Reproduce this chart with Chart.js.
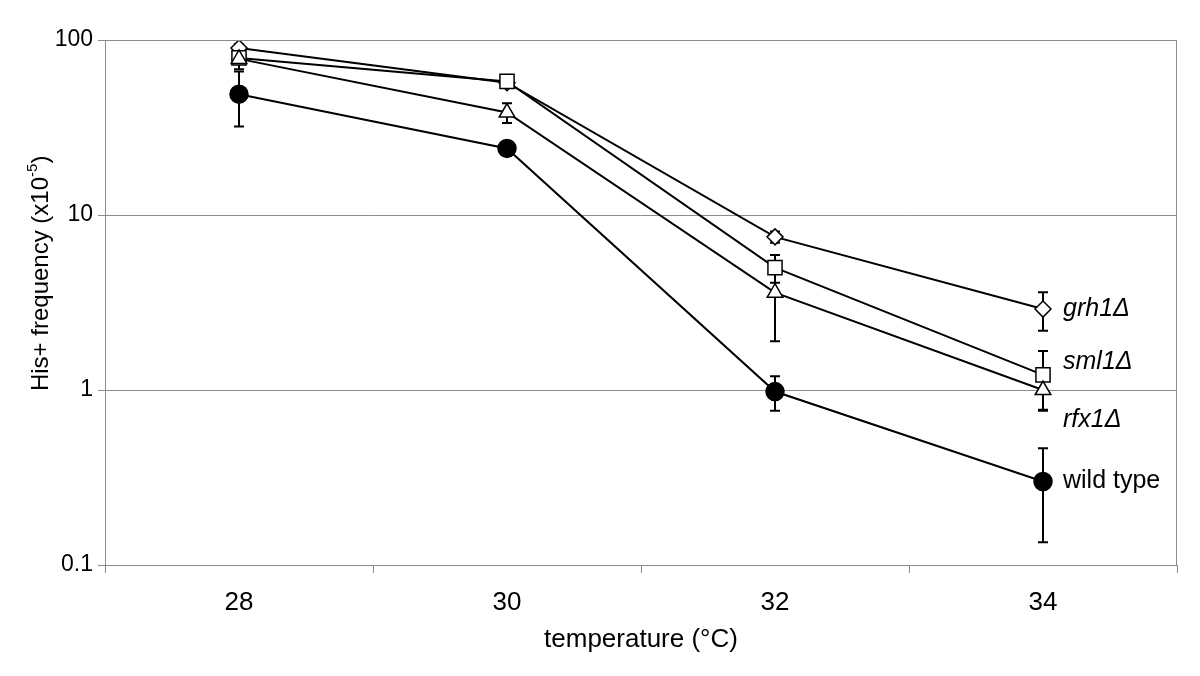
<!DOCTYPE html>
<html>
<head>
<meta charset="utf-8">
<style>
  html, body { margin: 0; padding: 0; background: #fff; }
  #wrap { width: 1200px; height: 676px; }
</style>
<script src="https://cdn.jsdelivr.net/npm/chart.js@4.4.1/dist/chart.umd.min.js"></script>
</head>
<body>
<div id="wrap"><canvas id="c" width="1200" height="676"></canvas></div>
<script>
const categories = ['28', '30', '32', '34'];
const yTickValues = [0.1, 1, 10, 100];

const wildType    = [49, 24, 0.98, 0.30];
const wildTypeErr = [17, 2, 0.22, 0.165];
const rfx1        = [78, 38.5, 3.6, 1.0];
const rfx1Err     = [10, 5, 1.7, 0.24];
const sml1        = [79, 58, 5.0, 1.22];
const sml1Err     = [6, 3, 0.9, 0.45];
const grh1        = [90, 57, 7.5, 2.9];
const grh1Err     = [5, 2, 0.55, 0.72];

const seriesLabels = ['grh1Δ', 'sml1Δ', 'rfx1Δ', 'wild type'];

const FONT = '"Liberation Sans", Arial, Helvetica, sans-serif';
const GRID = '#8c8c8c';

const errorBarPlugin = {
  id: 'errorBars',
  beforeDatasetsDraw(chart) {
    const ctx = chart.ctx;
    const x = chart.scales.x, y = chart.scales.y;
    ctx.save();
    ctx.strokeStyle = '#000';
    ctx.lineWidth = 2;
    chart.data.datasets.forEach(ds => {
      ds.err.forEach((e, i) => {
        const px = x.getPixelForValue(i);
        const top = y.getPixelForValue(ds.data[i] + e);
        const bot = y.getPixelForValue(Math.max(ds.data[i] - e, 0.0001));
        ctx.beginPath();
        ctx.moveTo(px, top); ctx.lineTo(px, bot);
        ctx.moveTo(px - 5, top); ctx.lineTo(px + 5, top);
        ctx.moveTo(px - 5, bot); ctx.lineTo(px + 5, bot);
        ctx.stroke();
      });
    });
    ctx.restore();
  }
};

const framePlugin = {
  id: 'frame',
  afterDraw(chart) {
    const ctx = chart.ctx, a = chart.chartArea;
    ctx.save();
    ctx.strokeStyle = GRID;
    ctx.lineWidth = 1;
    ctx.strokeRect(Math.round(a.left) + 0.5, Math.round(a.top) + 0.5,
                   Math.round(a.right - a.left) - 1, Math.round(a.bottom - a.top));
    ctx.restore();
  }
};

const labelPlugin = {
  id: 'seriesLabels',
  afterDraw(chart) {
    const ctx = chart.ctx;
    const x = chart.scales.x, y = chart.scales.y;
    const last = categories.length - 1;
    const opts = chart.options.plugins.seriesLabels;
    ctx.save();
    ctx.fillStyle = '#000';
    ctx.textBaseline = 'middle';
    ctx.textAlign = 'left';
    opts.items.forEach(it => {
      const ds = chart.data.datasets[it.ds];
      const px = x.getPixelForValue(last) + opts.dx;
      const py = y.getPixelForValue(ds.data[last]) + it.dy;
      ctx.font = (it.italic ? 'italic ' : '') + '25px ' + FONT;
      ctx.fillText(ds.label, px, py);
    });
    // y axis title
    ctx.translate(41, 272);
    ctx.rotate(-Math.PI / 2);
    ctx.textAlign = 'center';
    ctx.font = '24px ' + FONT;
    ctx.fillText('His+ frequency (x10', -12, 0);
    const w = ctx.measureText('His+ frequency (x10').width;
    ctx.textAlign = 'left';
    ctx.font = '15px ' + FONT;
    ctx.fillText('-5', -12 + w / 2, -8);
    const w2 = ctx.measureText('-5').width;
    ctx.font = '24px ' + FONT;
    ctx.fillText(')', -12 + w / 2 + w2, 0);
    ctx.restore();
  }
};

const common = { borderColor: '#000', borderWidth: 2, pointBorderColor: '#000',
  pointBorderWidth: 1.5, pointBackgroundColor: '#fff', tension: 0, fill: false };

new Chart(document.getElementById('c'), {
  type: 'line',
  data: {
    labels: categories,
    datasets: [
      Object.assign({}, common, { label: seriesLabels[3], data: wildType, err: wildTypeErr,
        pointStyle: 'circle', pointRadius: 9, pointBackgroundColor: '#000' }),
      Object.assign({}, common, { label: seriesLabels[2], data: rfx1, err: rfx1Err,
        pointStyle: 'triangle', pointRadius: 9 }),
      Object.assign({}, common, { label: seriesLabels[1], data: sml1, err: sml1Err,
        pointStyle: 'rect', pointRadius: 10 }),
      Object.assign({}, common, { label: seriesLabels[0], data: grh1, err: grh1Err,
        pointStyle: 'rectRot', pointRadius: 8 })
    ]
  },
  options: {
    responsive: false,
    animation: false,
    events: [],
    layout: { padding: { top: 40, right: 23, left: 0, bottom: 0 } },
    plugins: {
      legend: { display: false },
      tooltip: { enabled: false },
      seriesLabels: {
        dx: 20,
        items: [
          { ds: 3, dy: 0, italic: true },
          { ds: 2, dy: -13, italic: true },
          { ds: 1, dy: 30, italic: true },
          { ds: 0, dy: 0, italic: false }
        ]
      }
    },
    scales: {
      x: {
        type: 'category',
        offset: true,
        grid: { offset: true, drawOnChartArea: false, drawTicks: true, tickLength: 8, color: GRID },
        border: { display: true, color: GRID },
        ticks: { color: '#000', font: { family: FONT, size: 26 }, padding: 14 },
        title: { display: true, text: 'temperature (°C)', color: '#000',
          font: { family: FONT, size: 26 }, padding: { top: 0, bottom: 21 } },
        afterFit(s) { s.height = 111; }
      },
      y: {
        type: 'logarithmic',
        min: 0.1,
        max: 100,
        afterBuildTicks(s) { s.ticks = yTickValues.map(v => ({ value: v, major: true })); },
        grid: { color: GRID, tickLength: 7, lineWidth: 1 },
        border: { display: true, color: GRID },
        ticks: { color: '#000', font: { family: FONT, size: 23 }, padding: 5,
          callback: v => String(v) },
        afterFit(s) { s.width = 105; }
      }
    }
  },
  plugins: [errorBarPlugin, framePlugin, labelPlugin]
});
</script>
</body>
</html>
